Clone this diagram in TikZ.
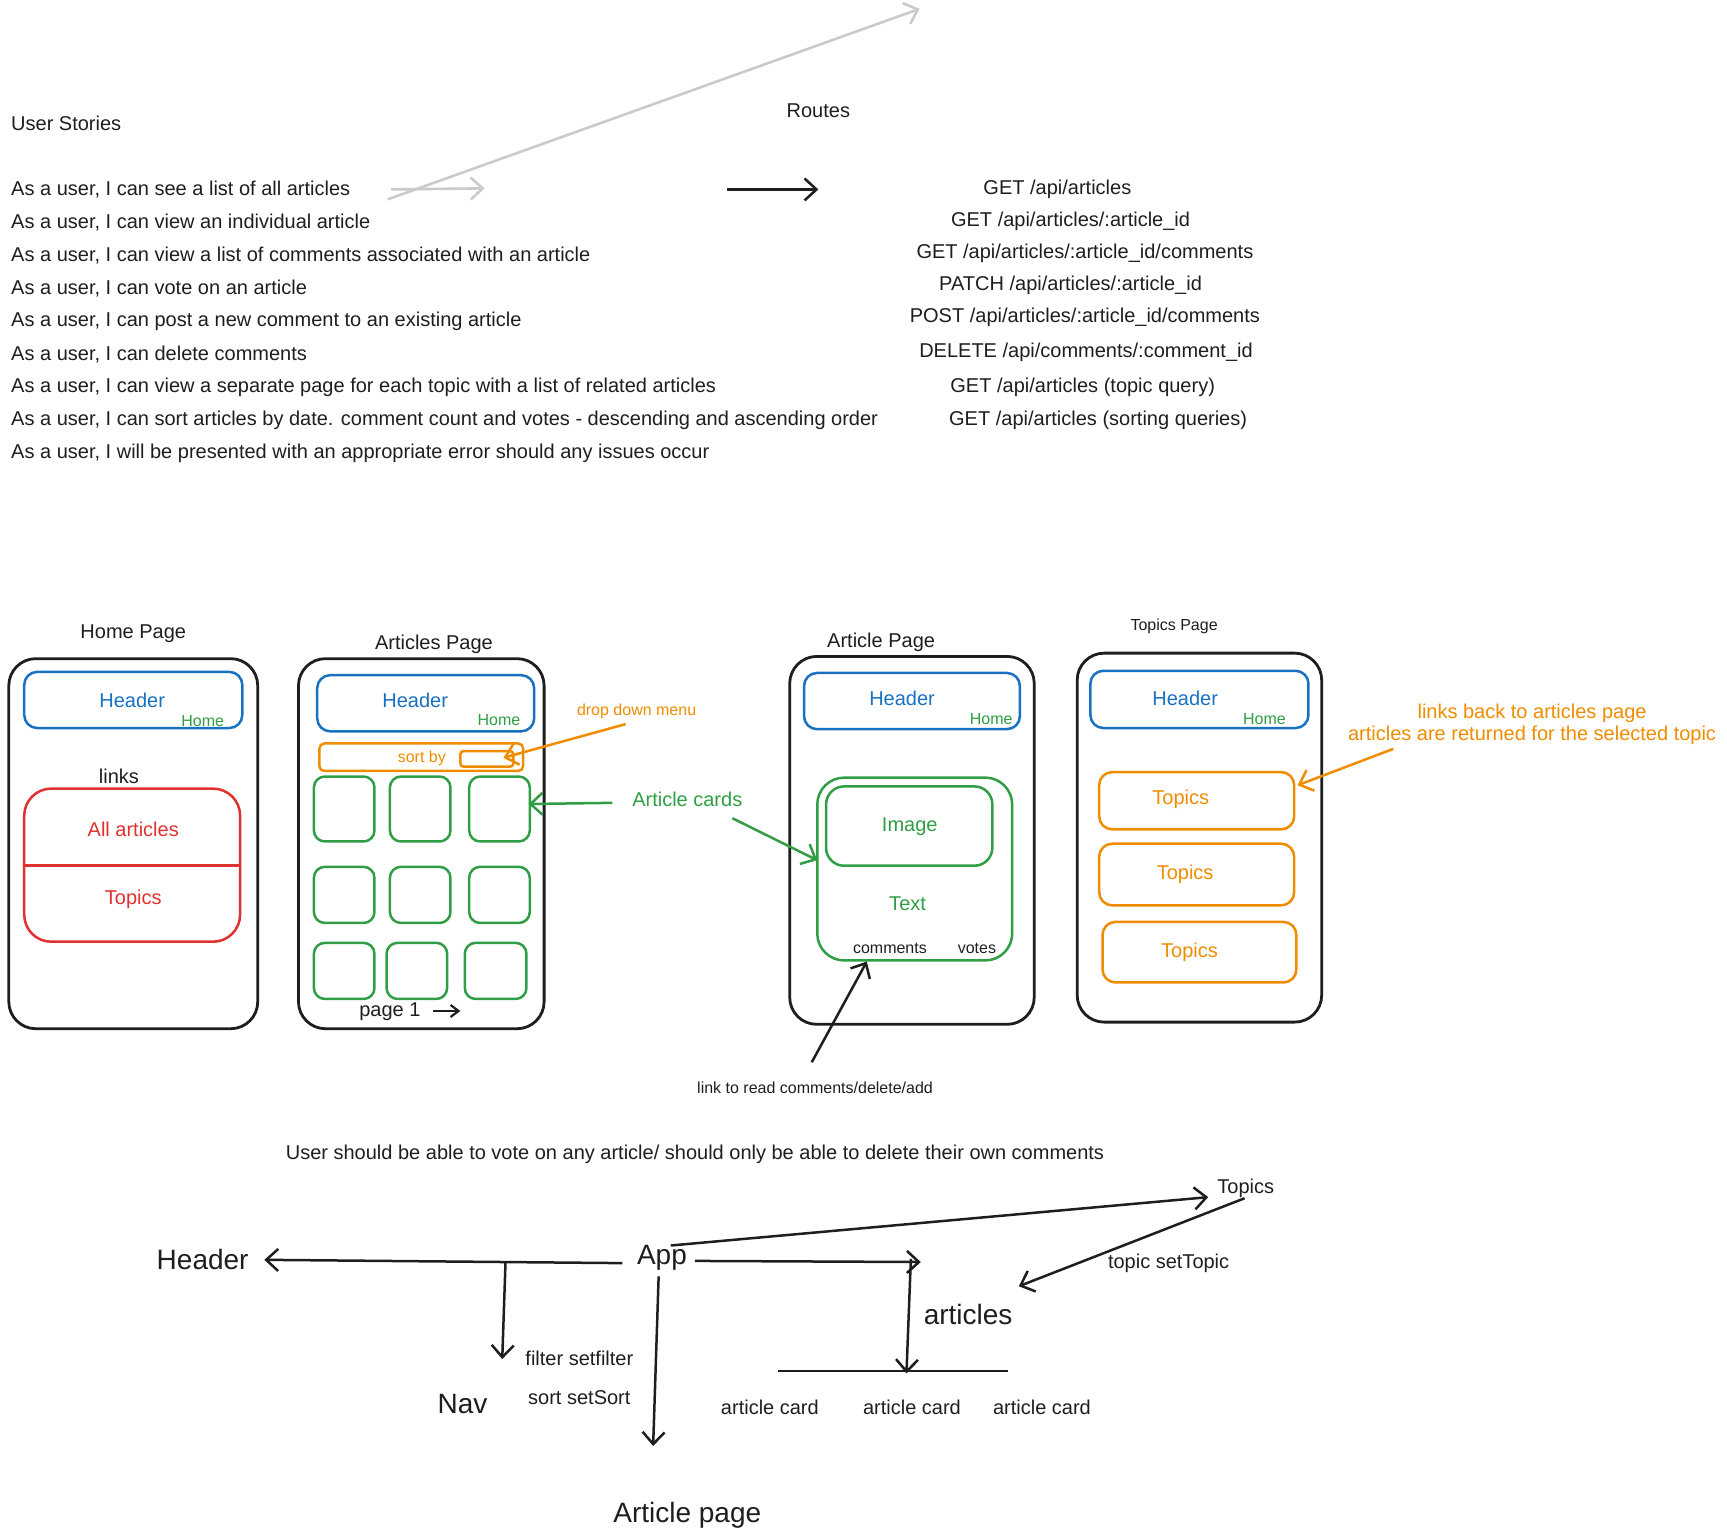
\documentclass[tikz,border=0pt]{standalone}
\usepackage{fontspec}
\setmainfont{Liberation Sans}
\usetikzlibrary{arrows.meta,fit,calc}
\definecolor{ink}{HTML}{1E1E1E}
\definecolor{xblue}{HTML}{1971C2}
\definecolor{xgreen}{HTML}{2F9E44}
\definecolor{xred}{HTML}{E03131}
\definecolor{xorange}{HTML}{F08C00}
\definecolor{xgray}{HTML}{CACACA}
\tikzset{
  t20/.style={font=\fontsize{20}{24}\selectfont, inner sep=0pt, text=ink, yshift=-1pt},
  t16/.style={font=\fontsize{16}{19}\selectfont, inner sep=0pt, text=ink, yshift=-0.5pt},
  t28/.style={font=\fontsize{28}{33}\selectfont, inner sep=0pt, text=ink, yshift=-2pt},
  frame/.style={draw=ink, line width=2.8pt, rounded corners=27pt, inner sep=0pt},
  hbox/.style={draw=xblue, line width=2.5pt, rounded corners=13pt, inner sep=0pt},
  gbox/.style={draw=xgreen, line width=2.5pt, rounded corners=11pt, inner sep=0pt},
  obox/.style={draw=xorange, line width=2.5pt, rounded corners=13pt, inner sep=0pt},
  rbox/.style={draw=xred, line width=2.5pt, rounded corners=27pt, inner sep=0pt},
  tip/.style={-{Straight Barb[length=12pt,width=22pt]}},
  arr/.style={tip, draw=ink, line width=2.5pt},
  garr/.style={tip, draw=xgray, line width=2.6pt},
  grarr/.style={tip, draw=xgreen, line width=2.5pt},
  orarr/.style={tip, draw=xorange, line width=2.5pt},
  smarr/.style={-{Straight Barb[length=8pt,width=12pt]}, draw=ink, line width=2.2pt},
}
\begin{document}
\begin{tikzpicture}[x=1.1014pt,y=-1.1014pt]
\useasboundingbox (0,0) rectangle (1568,1398);

% ---------- user stories ----------
\node[t20, anchor=west] (us) at (10,111) {User Stories};
\node[t20, anchor=west] (s1) at (10,171) {As a user, I can see a list of all articles};
\node[t20, anchor=west] (s2) at (10,201) {As a user, I can view an individual article};
\node[t20, anchor=west] (s3) at (10,231) {As a user, I can view a list of comments associated with an article};
\node[t20, anchor=west] (s4) at (10,261) {As a user, I can vote on an article};
\node[t20, anchor=west] (s5) at (10,291) {As a user, I can post a new comment to an existing article};
\node[t20, anchor=west] (s6) at (10,321) {As a user, I can delete comments};
\node[t20, anchor=west] (s7) at (10,351) {As a user, I can view a separate page for each topic with a list of related articles};
\node[t20, anchor=west] (s8) at (10,381) {As a user, I can sort articles by date. comment count and votes - descending and ascending order};
\node[t20, anchor=west] (s9) at (10,411) {As a user, I will be presented with an appropriate error should any issues occur};

% ---------- routes ----------
\node[t20] (routes) at (743,100) {Routes};
\node[t20] (r1) at (960,171) {GET /api/articles};
\node[t20] (r2) at (972,200) {GET /api/articles/:article\_id};
\node[t20] (r3) at (985,229) {GET /api/articles/:article\_id/comments};
\node[t20] (r4) at (972,258) {PATCH /api/articles/:article\_id};
\node[t20] (r5) at (985,287) {POST /api/articles/:article\_id/comments};
\node[t20] (r6) at (986,319) {DELETE /api/comments/:comment\_id};
\node[t20] (r7) at (983,351) {GET /api/articles (topic query)};
\node[t20] (r8) at (997,381) {GET /api/articles (sorting queries)};

\coordinate (ga) at (660,172);
\coordinate (gb) at (743,172);
\draw[arr] (ga) -- (gb);
\coordinate (g1) at (352,181);
\coordinate (g2) at (835,8);
\draw[garr] (g1) -- (g2);
\coordinate (g3) at (355,172);
\coordinate (g4) at (440,171);
\draw[garr] (g3) -- (g4);

% ---------- Home page ----------
\node[t20] (hpl) at (121,574) {Home Page};
\node[frame, fit={(8,598) (234,934)}] (f1) {};
\node[hbox, fit={(22,610) (220,661)}] (h1) {};
\node[t20, text=xblue] (h1t) at (120,635) {Header};
\node[t16, text=xgreen] (h1h) at (184,654) {Home};
\node[t20] (links) at (108,704) {links};
\node[rbox, fit={(22,716) (218,855)}] (rb) {};
\draw[draw=xred, line width=2.5pt] (rb.west |- 0,786) -- (rb.east |- 0,786);
\node[t20, text=xred] (alla) at (121,752) {All articles};
\node[t20, text=xred] (tops) at (121,816) {Topics};

% ---------- Articles page ----------
\node[t20] (apl) at (394,584) {Articles Page};
\node[frame, fit={(271,598) (494,934)}] (f2) {};
\node[hbox, fit={(288,613) (485,664)}] (h2) {};
\node[t20, text=xblue] (h2t) at (377,635) {Header};
\node[t16, text=xgreen] (h2h) at (453,653) {Home};
\node[obox, rounded corners=5pt, fit={(290,675) (475,700)}] (sb) {};
\node[t16, text=xorange] (sbt) at (383,688) {sort by};
\node[obox, rounded corners=3pt, fit={(418,682) (466,696)}] (sbs) {};
\foreach \n/\xa/\xb/\ya/\yb in {
  c11/285/340/705/764, c12/354/409/705/764, c13/426/481/705/764,
  c21/285/340/787/838, c22/354/409/787/838, c23/426/481/787/838,
  c31/285/340/856/907, c32/351/406/856/907, c33/422/478/856/907}
  {\node[gbox, fit={(\xa,\ya) (\xb,\yb)}] (\n) {};}
\node[t20] (pg) at (354,918) {page 1};
\draw[smarr] ($(pg)+(39,-1)$) -- ($(pg)+(64,-1)$);

\node[t16, text=xorange] (ddm) at (578,645) {drop down menu};
\draw[orarr] ($(ddm)+(-10,12)$) -- ($(sbs)+(15,-1)$);
\node[t20, text=xgreen] (ac) at (624,725) {Article cards};
\draw[grarr] ($(ac)+(-68,3)$) -- ($(c13)+(26.5,-4.5)$);

% ---------- Article page ----------
\node[t20] (arpl) at (800,582) {Article Page};
\node[frame, fit={(717,596) (939,930)}] (f3) {};
\node[hbox, fit={(730,611) (926,662)}] (h3) {};
\node[t20, text=xblue] (h3t) at (819,633) {Header};
\node[t16, text=xgreen] (h3h) at (900,652) {Home};
\node[gbox, rounded corners=27pt, fit={(742,706) (919,872)}] (oc) {};
\node[gbox, rounded corners=18pt, fit={(750,714) (901,786)}] (ib) {};
\node[t20, text=xgreen] (img) at (826,750) {Image};
\node[t20, text=xgreen] (txt) at (824,820) {Text};
\node[t16] (cmt) at (808,861) {comments};
\node[t16] (vts) at (887,861) {votes};
\draw[grarr] ($(ac)+(41,17)$) -- ($(oc)+(-88.5,-8)$);
\node[t16] (lnk) at (740,987) {link to read comments/delete/add};
\draw[arr] ($(lnk)+(-3,-23)$) -- ($(oc)+(-43.5,84)$);

% ---------- Topics page ----------
\node[t16] (tpl) at (1066,568) {Topics Page};
\node[frame, fit={(978,593) (1200,928)}] (f4) {};
\node[hbox, fit={(990,609) (1188,661)}] (h4) {};
\node[t20, text=xblue] (h4t) at (1076,633) {Header};
\node[t16, text=xgreen] (h4h) at (1148,652) {Home};
\node[obox, fit={(998,701) (1175,753)}] (tb1) {};
\node[obox, fit={(998,766) (1175,822)}] (tb2) {};
\node[obox, fit={(1001,837) (1177,892)}] (tb3) {};
\node[t20, text=xorange] (tt1) at (1072,725) {Topics};
\node[t20, text=xorange] (tt2) at (1076,793) {Topics};
\node[t20, text=xorange] (tt3) at (1080,864) {Topics};
\node[t20, text=xorange, align=center, font=\fontsize{20}{22}\selectfont] (lb) at (1391,657)
  {links back to articles page\\articles are returned for the selected topic};
\draw[orarr] ($(lb)+(-126,22)$) -- ($(tb1)+(91.5,-14)$);

% ---------- component tree ----------
\node[t20] (note) at (631,1047) {User should be able to vote on any article/ should only be able to delete their own comments};
\node[t28] (hdr3) at (184,1142) {Header};
\node[t28] (app) at (601,1140) {App};
\node[t28] (nav) at (420,1273) {Nav};
\node[t28] (ap) at (624,1374) {Article page};
\node[t28] (arts) at (879,1192) {articles};
\node[t20] (tp3) at (1131,1078) {Topics};
\node[t20] (fs) at (526,1232) {filter setfilter};
\node[t20] (ss) at (526,1268) {sort setSort};
\node[t20] (ts) at (1061,1146) {topic setTopic};
\node[t20] (ac1) at (699,1277) {article card};
\node[t20] (ac2) at (828,1277) {article card};
\node[t20] (ac3) at (946,1277) {article card};

\draw[arr] ($(app)+(-36,5)$) -- ($(hdr3)+(56,0)$);
\coordinate (br) at (459,1145);
\draw[arr] (br) -- ($(fs)+(-70,1)$);
\draw[arr] ($(app)+(-3,17)$) -- ($(ap)+(-31,-63)$);
\draw[arr] ($(app)+(30,3)$) -- ($(arts)+(-43,-48)$);
\coordinate (bv) at (827,1143);
\draw[arr] (bv) -- ($(ac2)+(-5,-31)$);
\draw[draw=ink, line width=2.5pt] ($(ac1)+(7,-33)$) -- ($(ac3)+(-31,-33)$);
\draw[arr] ($(app)+(8,-11)$) -- ($(tp3)+(-34,8)$);
\draw[arr] ($(tp3)+(-1,9)$) -- ($(arts)+(46,-26)$);
\end{tikzpicture}
\end{document}
